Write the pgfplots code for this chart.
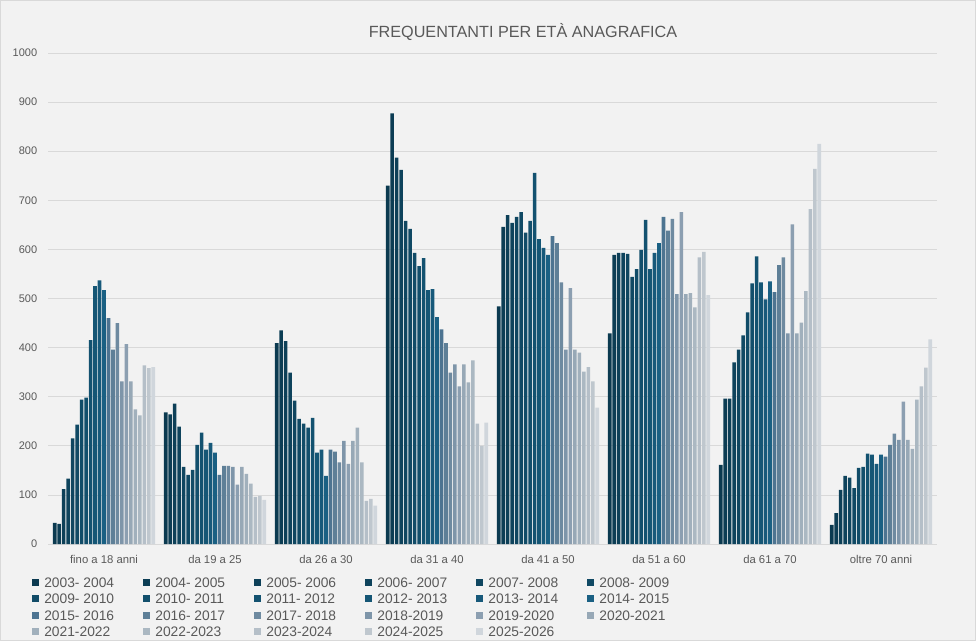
\documentclass[border=0pt]{standalone}
\usepackage{fontspec}
\setmainfont{Liberation Sans}
\usepackage{pgfplots}
\pgfplotsset{compat=1.18}
\usepackage{pgfplotstable}

\definecolor{bgc}{HTML}{F2F2F2}
\definecolor{bordc}{HTML}{D9D9D9}
\definecolor{gridc}{HTML}{D9D9D9}
\definecolor{txtc}{HTML}{595959}
\definecolor{c1}{HTML}{0B3A50}
\definecolor{c2}{HTML}{0C3D54}
\definecolor{c3}{HTML}{0D4058}
\definecolor{c4}{HTML}{0E435C}
\definecolor{c5}{HTML}{0F4660}
\definecolor{c6}{HTML}{104964}
\definecolor{c7}{HTML}{114C68}
\definecolor{c8}{HTML}{124F6C}
\definecolor{c9}{HTML}{135270}
\definecolor{c10}{HTML}{155675}
\definecolor{c11}{HTML}{17597A}
\definecolor{c12}{HTML}{1A6083}
\definecolor{c13}{HTML}{4D7491}
\definecolor{c14}{HTML}{5E7F97}
\definecolor{c15}{HTML}{6E8AA0}
\definecolor{c16}{HTML}{7E95A9}
\definecolor{c17}{HTML}{8C9FB1}
\definecolor{c18}{HTML}{97A8B6}
\definecolor{c19}{HTML}{A1B0BC}
\definecolor{c20}{HTML}{ABB8C2}
\definecolor{c21}{HTML}{B5BFC8}
\definecolor{c22}{HTML}{BFC7CE}
\definecolor{c23}{HTML}{D0D6DC}

\pgfplotstableread{
x s1 s2 s3 s4 s5 s6 s7 s8 s9 s10 s11 s12 s13 s14 s15 s16 s17 s18 s19 s20 s21 s22 s23
0 43 41 112 133 215 243 294 298 415 525 537 517 460 396 450 331 407 331 274 262 364 358 360
1 268 264 286 239 157 141 151 202 227 192 206 186 141 159 159 157 121 157 143 123 96 98 90
2 409 435 413 349 292 255 245 237 257 186 192 139 192 188 166 210 163 210 237 166 88 92 78
3 730 877 787 762 658 642 593 566 582 517 519 462 437 409 349 366 321 366 329 374 245 200 247
4 484 646 670 654 666 676 634 658 756 621 603 589 627 613 533 396 521 396 390 351 360 331 278
5 429 589 593 593 591 544 560 599 660 560 593 613 666 638 662 509 676 509 511 482 584 595 507
6 161 296 296 370 396 425 472 531 586 533 498 535 513 568 584 429 651 429 451 515 682 764 815
7 39 63 110 139 135 114 155 157 184 182 163 182 178 202 225 212 290 212 194 294 321 359 417
}\datatable

\begin{document}
\begin{tikzpicture}
\fill[bgc] (0,0) rectangle (976pt,641pt);
\draw[bordc, line width=1pt] (0.5pt,0.5pt) rectangle (975.5pt,640.5pt);
\node[anchor=base, inner sep=0pt, font=\fontsize{16.2}{18}\selectfont, text=txtc] at (523pt,603.8pt) {FREQUENTANTI PER ETÀ ANAGRAFICA};
\begin{axis}[
  at={(48.5pt,97pt)}, anchor=south west,
  width=888pt, height=491pt, scale only axis,
  xmin=-0.5, xmax=7.5, ymin=0, ymax=1000,
  ybar=0.88pt, bar width=3.6pt,
  xtick={0,...,7},
  xticklabels={fino a 18 anni, da 19 a 25, da 26 a 30, da 31 a 40, da 41 a 50, da 51 a 60, da 61 a 70, oltre 70 anni},
  ytick={0,100,...,1000},
  ymajorgrids, grid style={draw=gridc, line width=0.75pt},
  axis line style={draw=none},
  major tick length=0pt,
  /pgf/number format/assume math mode=true,
  /pgf/number format/set thousands separator={},
  xticklabel style={font=\fontsize{11.3}{13}\selectfont, text=txtc, anchor=base, yshift=-19.3pt},
  yticklabel style={font=\fontsize{11}{13}\selectfont, text=txtc, xshift=-7.8pt},
  legend image code/.code={\fill[#1] (0pt,-2pt) rectangle (7pt,5pt);},
  legend columns=6,
  legend cell align=left,
  legend style={at={(axis description cs:-0.01824,-0.0684)}, anchor=north west,
    draw=none, fill=none, inner sep=0pt, outer sep=0pt,
    font=\fontsize{13.8}{14}\selectfont, text=txtc,
    row sep=3.3pt,
    nodes={inner sep=0pt, text height=10pt, text depth=3pt},
    /tikz/every odd column/.append style={column sep=5pt},
    /tikz/every even column/.append style={column sep=29.2pt}},
  legend entries={2003- 2004, 2004- 2005, 2005- 2006, 2006- 2007, 2007- 2008, 2008- 2009,
    2009- 2010, 2010- 2011, 2011- 2012, 2012- 2013, 2013- 2014, 2014- 2015,
    2015- 2016, 2016- 2017, 2017- 2018, 2018-2019, 2019-2020, 2020-2021,
    2021-2022, 2022-2023, 2023-2024, 2024-2025, 2025-2026},
]
\pgfplotsinvokeforeach{1,...,23}{
  \addplot[fill=c#1, draw=none] table[x=x, y=s#1] {\datatable};
}
\end{axis}
\pgfresetboundingbox
\path[use as bounding box] (0,0) rectangle (976pt,641pt);
\end{tikzpicture}
\end{document}
